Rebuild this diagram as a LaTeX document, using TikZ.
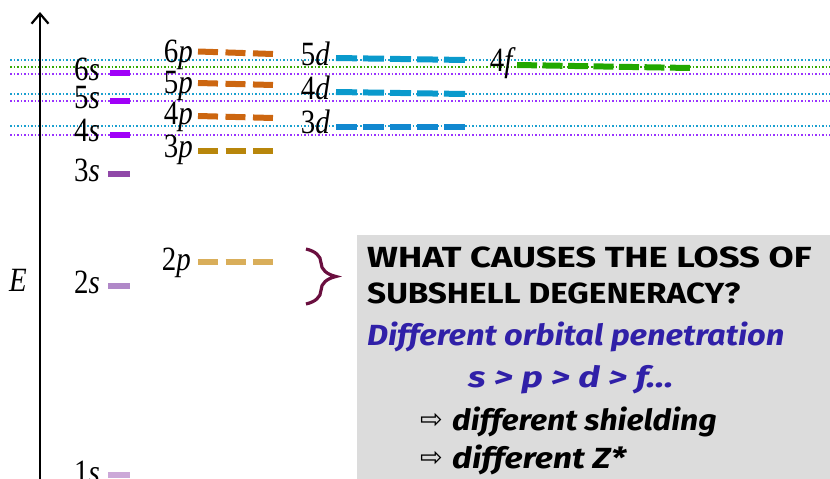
\documentclass[tikz,border=0pt]{standalone}
\usepackage{fontspec}
\setmainfont{Liberation Serif}
\newfontfamily\comic{Fira Sans}
\newfontfamily\symf{DejaVu Sans}
\usetikzlibrary{arrows.meta,decorations.pathreplacing}
\definecolor{dcyan}{HTML}{1AA0D0}
\definecolor{dgreen}{HTML}{33AA00}
\definecolor{dpurple}{HTML}{9933FF}
\definecolor{sviolet}{HTML}{A000F8}
\definecolor{sthree}{HTML}{9048A8}
\definecolor{stwo}{HTML}{B088C8}
\definecolor{sone}{HTML}{CCA8D8}
\definecolor{porange}{HTML}{CC6610}
\definecolor{pgold}{HTML}{B8860B}
\definecolor{plight}{HTML}{D9AE5A}
\definecolor{dblue}{HTML}{0A9ACC}
\definecolor{dblued}{HTML}{1188D0}
\definecolor{fgreen}{HTML}{22A800}
\definecolor{bracec}{HTML}{6A0F3F}
\definecolor{boxgray}{HTML}{DCDCDC}
\definecolor{txtblue}{HTML}{3020A8}
\newcommand\orblab[2]{\scalebox{0.85}[1]{#1\textit{#2}}}
\begin{document}
\begin{tikzpicture}[x=1pt,y=-1pt,
  lab/.style={anchor=base east, inner sep=0pt, font=\fontsize{34}{34}\selectfont},
  dotl/.style={line width=2.2pt, dash pattern=on 1.5pt off 2pt},
  sbar/.style={line width=6.5pt},
  pbar/.style={line width=6pt, dash pattern=on 20pt off 7.5pt},
  dbar/.style={line width=6pt, dash pattern=on 21pt off 6pt},
  fbar/.style={line width=6pt, dash pattern=on 20pt off 5.5pt},
  ctext/.style={anchor=base west, inner sep=0pt, font=\comic\bfseries\fontsize{28}{28}\selectfont},
  citext/.style={anchor=base west, inner sep=0pt, font=\comic\bfseries\itshape\fontsize{28}{28}\selectfont},
  arr/.style={anchor=base west, inner sep=0pt, font=\symf\fontsize{27}{27}\selectfont},
  ]
\useasboundingbox (0,0) rectangle (830,479);
% gray box
\fill[boxgray] (357,235) rectangle (830,479);
% dotted reference lines
\draw[dotl,dcyan] (10,60) -- (830,60);
\draw[dotl,dgreen] (10,67) -- (830,67);
\draw[dotl,dpurple] (10,74) -- (830,74);
\draw[dotl,dcyan] (10,94) -- (830,94);
\draw[dotl,dpurple] (10,101) -- (830,101);
\draw[dotl,dcyan] (10,126) -- (830,126);
\draw[dotl,dpurple] (10,135) -- (830,135);
% axis
\coordinate (axb) at (40,479);
\coordinate (axt) at (40,12);
\draw[line width=2.2pt,-{Straight Barb[length=10pt,width=17pt,line width=2.2pt]}] (axb) -- (axt);
\node[anchor=base, inner sep=0pt, font=\fontsize{34}{34}\selectfont] (E) at (18,291) {\scalebox{0.85}[1]{\textit{E}}};
% s levels
\node[lab] (l6s) at (100,80) {\orblab{6}{s}};
\node[lab] (l5s) at (100,108) {\orblab{5}{s}};
\node[lab] (l4s) at (100,141) {\orblab{4}{s}};
\node[lab] (l3s) at (100,181) {\orblab{3}{s}};
\node[lab] (l2s) at (100,293) {\orblab{2}{s}};
\node[lab] (l1s) at (100,483) {\orblab{1}{s}};
\draw[sbar,sviolet] (110,73) -- (130,73);
\draw[sbar,sviolet] (110,101) -- (130,101);
\draw[sbar,sviolet] (110,135) -- (130,135);
\draw[sbar,sthree] (108,174) -- (130,174);
\draw[sbar,stwo] (108,286) -- (130,286);
\draw[sbar,sone] (108,475) -- (130,475);
% p levels
\node[lab] (l6p) at (193,62) {\orblab{6}{p}};
\node[lab] (l5p) at (193,93) {\orblab{5}{p}};
\node[lab] (l4p) at (193,124) {\orblab{4}{p}};
\node[lab] (l3p) at (193,157) {\orblab{3}{p}};
\node[lab] (l2p) at (191,270) {\orblab{2}{p}};
\draw[pbar,porange] (198,51.5) -- (273,54);
\draw[pbar,porange] (198,83) -- (273,85);
\draw[pbar,porange] (198,116) -- (273,118);
\draw[pbar,pgold] (198,151) -- (273,151);
\draw[pbar,plight] (198,262) -- (273,262);
% d levels
\node[lab] (l5d) at (330,65) {\orblab{5}{d}};
\node[lab] (l4d) at (330,99) {\orblab{4}{d}};
\node[lab] (l3d) at (330,133) {\orblab{3}{d}};
\draw[dbar,dblue] (336,58) -- (465,60);
\draw[dbar,dblue] (336,92) -- (465,94);
\draw[dbar,dblued] (336,127) -- (465,127);
% f level
\node[lab] (l4f) at (516,71) {\orblab{4}{f}};
\draw[fbar,fgreen] (517,65) -- (690,68);
% brace
\coordinate (bt) at (306,249);
\coordinate (bb) at (306,304);
\draw[bracec,line width=3.2pt,decorate,decoration={brace,amplitude=30pt}] (bt) -- (bb);
% text
\node[ctext] (t1) at (367,267) {\scalebox{1.3}[1.04]{WHAT CAUSES THE LOSS OF}};
\node[ctext] (t2) at (367,303) {\scalebox{1.19}[1.04]{SUBSHELL DEGENERACY?}};
\node[citext,txtblue] (t3) at (367,345) {\scalebox{1.165}[1.04]{Different orbital penetration}};
\node[citext,txtblue] (t4) at (468,387) {\scalebox{1.32}[1.04]{s > p > d > f…}};
\node[arr] (a1) at (420,428) {⇨};
\node[citext] (t5) at (452,430) {\scalebox{1.14}[1.04]{different shielding}};
\node[arr] (a2) at (420,466) {⇨};
\node[citext] (t6) at (452,468) {\scalebox{1.21}[1.04]{different Z*}};
\end{tikzpicture}
\end{document}
